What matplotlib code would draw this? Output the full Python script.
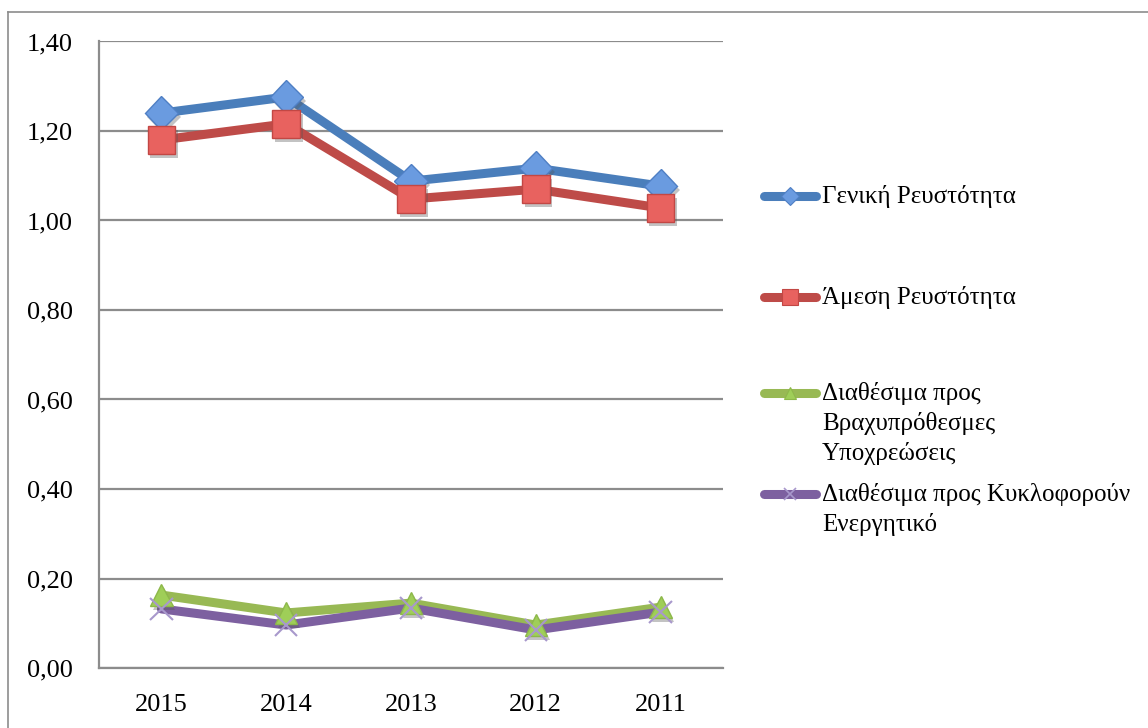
import matplotlib
matplotlib.use("Agg")
import matplotlib.pyplot as plt
import matplotlib.patheffects as pe
from matplotlib.lines import Line2D

plt.rcParams['font.family'] = ['Liberation Serif', 'DejaVu Serif']

# Liquidity ratios per year
years = ["2015", "2014", "2013", "2012", "2011"]
general_liquidity = [1.24, 1.276, 1.088, 1.117, 1.077]
quick_liquidity = [1.18, 1.216, 1.048, 1.07, 1.028]
cash_to_short_term = [0.163, 0.123, 0.145, 0.096, 0.136]
cash_to_current_assets = [0.132, 0.096, 0.134, 0.085, 0.125]
y_ticks = [0.0, 0.2, 0.4, 0.6, 0.8, 1.0, 1.2, 1.4]

series_labels = [
    "Γενική Ρευστότητα",
    "Άμεση Ρευστότητα",
    "Διαθέσιμα προς\nΒραχυπρόθεσμες\nΥποχρεώσεις",
    "Διαθέσιμα προς Κυκλοφορούν\nΕνεργητικό",
]
series_values = [general_liquidity, quick_liquidity,
                 cash_to_short_term, cash_to_current_assets]

styles = [
    dict(line="#4A7EBB", marker="D", face="#6A9BE0", edge="#4F7FC4", ms=17, mew=1.0),
    dict(line="#BE4B48", marker="s", face="#E8625F", edge="#C24744", ms=20, mew=1.0),
    dict(line="#98B954", marker="^", face="#9FCE58", edge="#8DB84A", ms=16, mew=1.0),
    dict(line="#7D60A0", marker="x", face="#A898CC", edge="#A898CC", ms=16, mew=1.5),
]

W, H = 1148, 728
fig = plt.figure(figsize=(W / 100, H / 100), dpi=100)
ax = fig.add_axes([99 / W, 1 - 668 / H, (723 - 99) / W, (668 - 41.5) / H])

x = list(range(len(years)))
shadow = [pe.SimplePatchShadow(offset=(2, -3), shadow_rgbFace="#555555", alpha=0.35), pe.Normal()]

for vals, st in zip(series_values, styles):
    ax.plot(x, vals, color=st["line"], lw=6.5, solid_capstyle="round",
            solid_joinstyle="round", zorder=3)
for vals, st in zip(series_values, styles):
    ax.plot(x, vals, ls="none", marker=st["marker"], ms=st["ms"],
            mfc=st["face"], mec=st["edge"], mew=st["mew"], zorder=4,
            path_effects=shadow)

ax.set_xlim(-0.5, len(years) - 0.5)
ax.set_ylim(0, 1.4)
ax.set_yticks(y_ticks)
ax.set_yticklabels([f"{v:.2f}".replace(".", ",") for v in y_ticks])
ax.set_xticks(x)
ax.set_xticklabels(years)
ax.tick_params(axis="both", length=0, labelsize=19, colors="black")
ax.tick_params(axis="y", pad=19)
ax.tick_params(axis="x", pad=19)
ax.yaxis.grid(True, color="#8C8C8C", lw=1.6)
ax.set_axisbelow(True)
for side in ("top", "right"):
    ax.spines[side].set_visible(False)
for side in ("left", "bottom"):
    ax.spines[side].set_color("#8C8C8C")
    ax.spines[side].set_linewidth(1.6)

# Outer chart frame
fig.add_artist(Line2D([8 / W, 8 / W], [0, 1 - 12 / H], transform=fig.transFigure,
                      color="#8C8C8C", lw=1.2))
fig.add_artist(Line2D([8 / W, 1], [1 - 12 / H, 1 - 12 / H], transform=fig.transFigure,
                      color="#8C8C8C", lw=1.2))

# Legend on the right
legend_rows = [196, 297, 393, 494]
for label, st, ypix in zip(series_labels, styles, legend_rows):
    yf = 1 - ypix / H
    fig.add_artist(Line2D([764 / W, 816 / W], [yf, yf], transform=fig.transFigure,
                          color=st["line"], lw=6.5, solid_capstyle="round"))
    fig.add_artist(Line2D([790 / W], [yf], transform=fig.transFigure, ls="none",
                          marker=st["marker"], ms=st["ms"] * 0.55, mfc=st["face"],
                          mec=st["edge"], mew=st["mew"] * 0.8))
    fig.text(822 / W, yf + 11 / H, label, ha="left", va="top", fontsize=18,
             linespacing=1.38)

fig.savefig("out.png", dpi=100)
